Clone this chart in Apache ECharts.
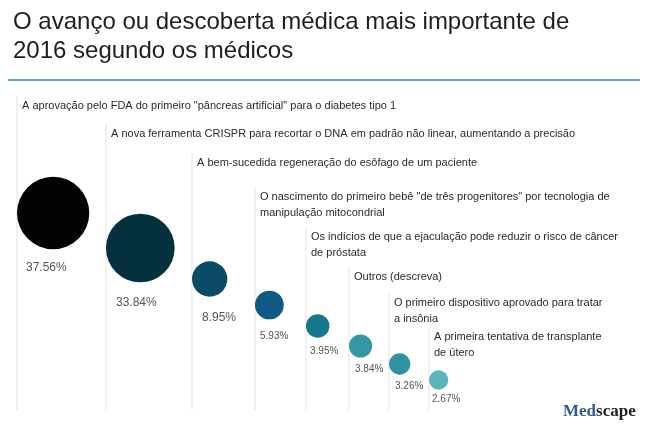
<!DOCTYPE html>
<html>
<head>
<meta charset="utf-8">
<script src="https://cdn.jsdelivr.net/npm/echarts@6/dist/echarts.min.js"></script>
<style>
html,body{margin:0;padding:0;background:#fff;}
#chart{width:645px;height:439px;}
</style>
</head>
<body>
<div id="chart"></div>
<script>
// ---- data ----
const categories = [
  'A aprovação pelo FDA do primeiro "pâncreas artificial" para o diabetes tipo 1',
  'A nova ferramenta CRISPR para recortar o DNA em padrão não linear, aumentando a precisão',
  'A bem-sucedida regeneração do esôfago de um paciente',
  'O nascimento do primeiro bebê "de três progenitores" por tecnologia de\nmanipulação mitocondrial',
  'Os indícios de que a ejaculação pode reduzir o risco de câncer\nde próstata',
  'Outros (descreva)',
  'O primeiro dispositivo aprovado para tratar\na insônia',
  'A primeira tentativa de transplante\nde útero'
];
const values = [37.56, 33.84, 8.95, 5.93, 3.95, 3.84, 3.26, 2.67];
const titleText = 'O avanço ou descoberta médica mais importante de\n2016 segundo os médicos';

// ---- layout (pixel units of hidden axes) ----
const slotX = [17, 106, 192, 255, 306, 349, 389, 429];
const labelY = [105, 133, 162, 196, 236, 276, 302, 336];
const bubbleCY = [213, 248, 279, 305, 326, 346, 364, 380];
const pctDX = [9, 10, 10, 5, 4, 6, 6, 3];
const pctGap = [19, 20, 21, 17, 14, 12, 12, 10];
const pctSize = [12, 12, 12, 10, 10, 10, 10, 10];
const colors = ['#030303', '#05313f', '#0b4b66', '#0e5a82', '#16778d', '#3497a3', '#2f93a1', '#58b4bd'];
const lineBottom = 410;
const radius = v => 5.9 * Math.sqrt(v);

const chart = echarts.init(document.getElementById('chart'), null, {renderer: 'canvas'});

const scatterData = values.map((v, i) => ({
  value: [slotX[i] + radius(v), bubbleCY[i], v],
  itemStyle: {color: colors[i], opacity: 1}
}));

const customData = values.map((v, i) => [slotX[i], labelY[i], i, v]);

chart.setOption({
  animation: false,
  textStyle: {fontFamily: 'Liberation Sans, Arial, sans-serif'},
  title: {
    text: titleText,
    left: 13, top: 8, padding: 0,
    textStyle: {fontSize: 24, fontWeight: 'normal', color: '#1e1e1e', lineHeight: 29, fontFamily: 'Liberation Sans, Arial, sans-serif'}
  },
  grid: {left: 0, right: 0, top: 0, bottom: 0},
  xAxis: {type: 'value', min: 0, max: 645, show: false},
  yAxis: {type: 'value', min: 0, max: 439, inverse: true, show: false},
  graphic: [
    {type: 'line', shape: {x1: 8, y1: 80, x2: 640, y2: 80}, style: {stroke: '#5aa8b8', lineWidth: 2}},
    {type: 'text', left: 563, top: 403, style: {
      text: '{a|Med}{b|scape}',
      rich: {
        a: {fontFamily: 'Liberation Serif, serif', fontWeight: 'bold', fontSize: 17, fill: '#2c5f8e'},
        b: {fontFamily: 'Liberation Serif, serif', fontWeight: 'bold', fontSize: 17, fill: '#222'}
      }
    }}
  ],
  series: [
    {
      type: 'custom',
      data: customData,
      z: 1,
      renderItem: function (params, api) {
        const i = api.value(2);
        const top = api.coord([api.value(0), api.value(1) - 9]);
        const bot = api.coord([api.value(0), lineBottom]);
        const txt = api.coord([api.value(0) + 5, api.value(1)]);
        const v = api.value(3);
        const pc = api.coord([slotX[i] + pctDX[i], bubbleCY[i] + radius(v) + pctGap[i]]);
        return {
          type: 'group',
          children: [
            {type: 'line', shape: {x1: top[0], y1: top[1], x2: bot[0], y2: bot[1]}, style: {stroke: '#e2e2e2', lineWidth: 1}},
            {type: 'text', x: txt[0], y: txt[1] - 7, style: {text: categories[i], fontSize: 11, lineHeight: 16, fill: '#2a2a2a', fontFamily: 'Liberation Sans, Arial, sans-serif', verticalAlign: 'top', align: 'left'}},
            {type: 'text', x: pc[0], y: pc[1], style: {text: v.toFixed(2) + '%', fontSize: pctSize[i], fill: '#555', fontFamily: 'Liberation Sans, Arial, sans-serif', verticalAlign: 'middle', align: 'left'}}
          ]
        };
      }
    },
    {
      type: 'scatter',
      z: 2,
      data: scatterData,
      symbol: 'circle',
      symbolSize: v => 2 * radius(v[2]),
      emphasis: {disabled: true}
    }
  ]
});
</script>
</body>
</html>
